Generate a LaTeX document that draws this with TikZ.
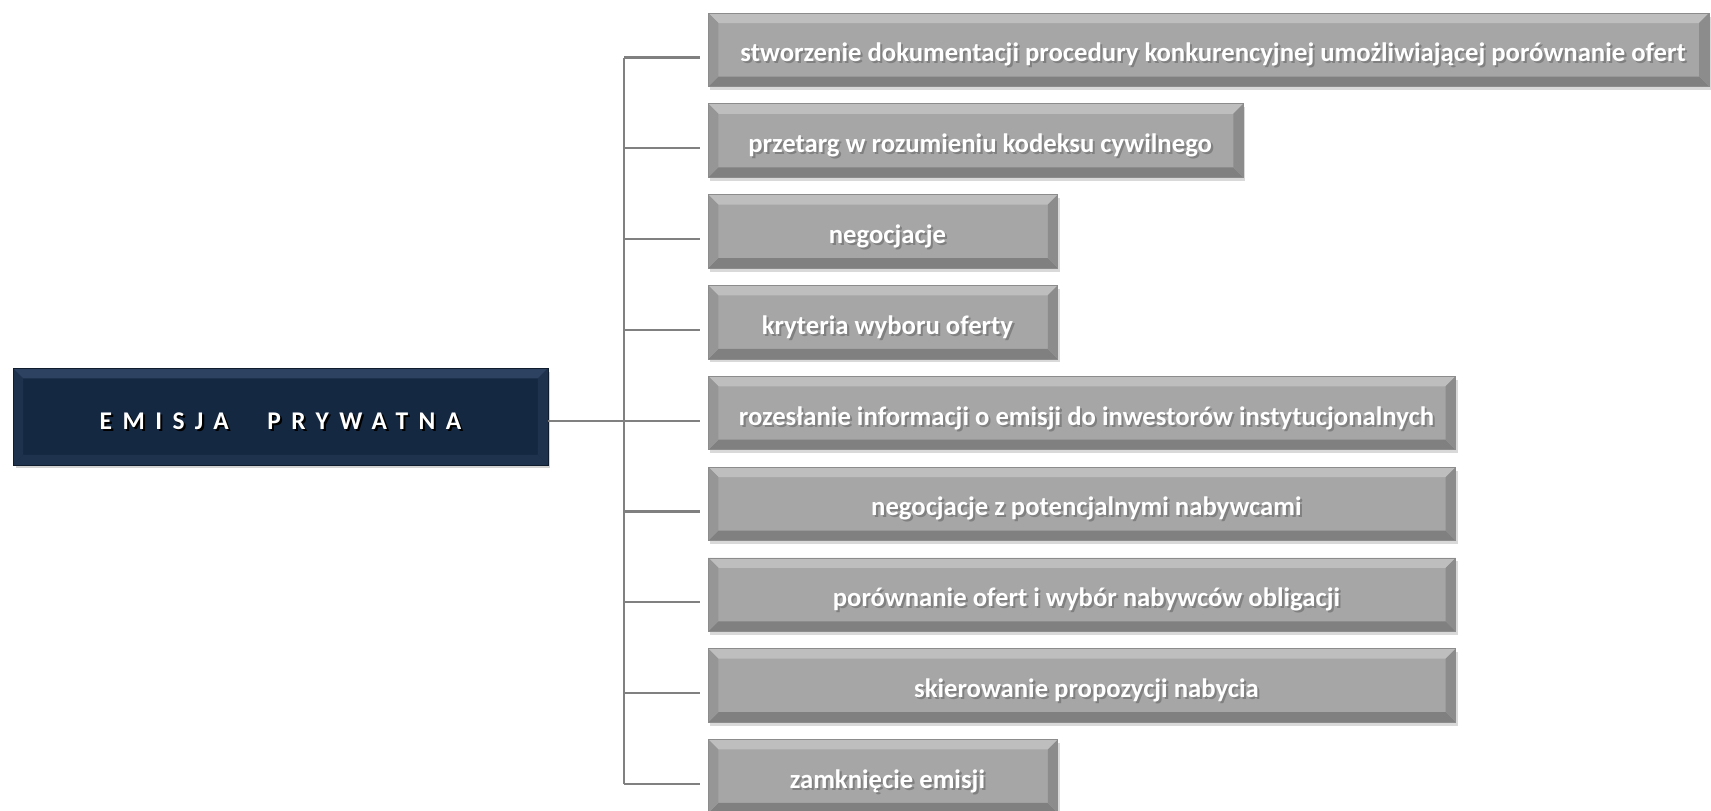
\documentclass[tikz,border=0pt]{standalone}
\usepackage{fontspec}
\setmainfont{Carlito}
\newfontfamily\spacedfont[LetterSpace=41]{Carlito}
\usepackage{xcolor}
\definecolor{epNavy}{RGB}{21, 40, 66}
\definecolor{epNavyLight}{RGB}{45, 66, 96}
\definecolor{epNavySide}{RGB}{30, 50, 78}
\definecolor{epGray}{RGB}{166, 166, 166}
\definecolor{epGrayLight}{RGB}{190, 190, 190}
\definecolor{epGrayLeft}{RGB}{150, 150, 150}
\definecolor{epGrayRight}{RGB}{140, 140, 140}
\definecolor{epGrayDark}{RGB}{128, 128, 128}
\definecolor{epLine}{RGB}{128, 128, 128}
\usepackage{tikz}
\usetikzlibrary{
    positioning,
    shadows,
    calc
}

\newcommand{\bw}{0.2cm}
\newcommand{\shadowtext}[2]{\makebox[0pt][l]{\raisebox{-1.2pt}[0pt][0pt]{\hspace{1.2pt}\textcolor{#1}{#2}}}#2}

\begin{document}
\begin{tikzpicture}[
    x=0.02cm, y=-0.02cm,
    bevel/.style n args={4}{
        path picture={
            \coordinate (pNW) at (path picture bounding box.north west);
            \coordinate (pNE) at (path picture bounding box.north east);
            \coordinate (pSW) at (path picture bounding box.south west);
            \coordinate (pSE) at (path picture bounding box.south east);
            \fill[#1] (pNW) -- (pNE) -- ([shift={(-\bw,-\bw)}]pNE) -- ([shift={(\bw,-\bw)}]pNW) -- cycle;
            \fill[#2] (pSW) -- (pSE) -- ([shift={(-\bw,\bw)}]pSE) -- ([shift={(\bw,\bw)}]pSW) -- cycle;
            \fill[#3] (pNW) -- (pSW) -- ([shift={(\bw,\bw)}]pSW) -- ([shift={(\bw,-\bw)}]pNW) -- cycle;
            \fill[#4] (pNE) -- (pSE) -- ([shift={(-\bw,\bw)}]pSE) -- ([shift={(-\bw,-\bw)}]pNE) -- cycle;
        }
    },
    mainBox/.style={
        rectangle, draw=epNavy!70!black, line width=0.4pt,
        fill=epNavy, text=white,
        bevel={epNavyLight}{epNavySide}{epNavySide}{epNavySide},
        font=\fontsize{14.5}{17}\spacedfont\bfseries,
        minimum width=10.7cm, minimum height=1.93cm, inner sep=0pt,
        text height=15pt, text depth=0.8pt,
        drop shadow={opacity=0.35, shadow xshift=0.05cm, shadow yshift=-0.07cm}
    },
    stepBox/.style={
        rectangle, draw=black!45, line width=0.4pt,
        fill=epGray, text=white,
        bevel={epGrayLight}{epGrayDark}{epGrayLeft}{epGrayRight},
        font=\fontsize{15.2}{18}\selectfont\bfseries,
        anchor=north west, minimum height=1.47cm, inner sep=0pt,
        text height=14.5pt, text depth=0.8pt,
        execute at begin node={\hspace*{5pt}},
        drop shadow={opacity=0.3, shadow xshift=0.04cm, shadow yshift=-0.07cm}
    },
    linkLine/.style={
        draw=epLine, line width=1.3pt
    }
]
    \useasboundingbox (0,0) rectangle (1711,811);

    % Main Box
    \node[mainBox] (main) at (280.5,416.7) {\shadowtext{black}{EMISJA\hspace{22pt}PRYWATNA}};

    % Step Boxes
    \node[stepBox, minimum width=20.02cm] (b1) at (708,12.7) {\shadowtext{black!50}{stworzenie dokumentacji procedury konkurencyjnej umożliwiającej porównanie ofert}};
    \node[stepBox, minimum width=10.7cm] (b2) at (708,103.5) {\shadowtext{black!50}{przetarg w rozumieniu kodeksu cywilnego}};
    \node[stepBox, minimum width=6.99cm] (b3) at (708,194.3) {\shadowtext{black!50}{negocjacje}};
    \node[stepBox, minimum width=6.99cm] (b4) at (708,285.1) {\shadowtext{black!50}{kryteria wyboru oferty}};
    \node[stepBox, minimum width=14.95cm] (b5) at (708,375.9) {\shadowtext{black!50}{rozesłanie informacji o emisji do inwestorów instytucjonalnych}};
    \node[stepBox, minimum width=14.95cm] (b6) at (708,466.7) {\shadowtext{black!50}{negocjacje z potencjalnymi nabywcami}};
    \node[stepBox, minimum width=14.95cm] (b7) at (708,557.5) {\shadowtext{black!50}{porównanie ofert i wybór nabywców obligacji}};
    \node[stepBox, minimum width=14.95cm] (b8) at (708,648.3) {\shadowtext{black!50}{skierowanie propozycji nabycia}};
    \node[stepBox, minimum width=6.99cm] (b9) at (708,739.1) {\shadowtext{black!50}{zamknięcie emisji}};

    % Connectors
    \coordinate (trunk) at (624,0);
    \foreach \i in {1,...,9}
        \coordinate (l\i) at ([xshift=-0.16cm, yshift=-0.155cm]b\i.west);
    \draw[linkLine] (l1 -| trunk) -- (l9 -| trunk);
    \foreach \i in {1,...,9}
        \draw[linkLine] (l\i -| trunk) -- (l\i);
    \draw[linkLine] (main.east |- l5) -- (l5 -| trunk);

\end{tikzpicture}
\end{document}
